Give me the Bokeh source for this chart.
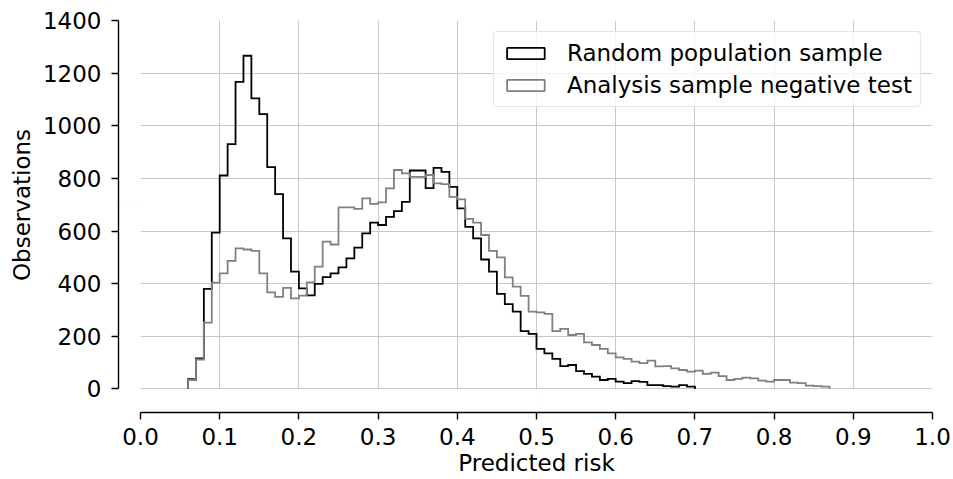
import numpy as np
from bokeh.plotting import figure
from bokeh.models import (Range1d, FixedTicker, Legend, LegendItem, ColumnDataSource,
                          LinearAxis)
from bokeh.embed import file_html
from bokeh.resources import INLINE

# ---------------- data ----------------
bin_width = 0.01
bin_left = [0.06, 0.07, 0.08, 0.09, 0.10, 0.11, 0.12, 0.13, 0.14, 0.15,
            0.16, 0.17, 0.18, 0.19, 0.20, 0.21, 0.22, 0.23, 0.24, 0.25,
            0.26, 0.27, 0.28, 0.29, 0.30, 0.31, 0.32, 0.33, 0.34, 0.35,
            0.36, 0.37, 0.38, 0.39, 0.40, 0.41, 0.42, 0.43, 0.44, 0.45,
            0.46, 0.47, 0.48, 0.49, 0.50, 0.51, 0.52, 0.53, 0.54, 0.55,
            0.56, 0.57, 0.58, 0.59, 0.60, 0.61, 0.62, 0.63, 0.64, 0.65,
            0.66, 0.67, 0.68, 0.69, 0.70, 0.71, 0.72, 0.73, 0.74, 0.75,
            0.76, 0.77, 0.78, 0.79, 0.80, 0.81, 0.82, 0.83, 0.84, 0.85,
            0.86]

random_population = [37, 116, 380, 594, 811, 930, 1167, 1266, 1104, 1044,
                     843, 740, 572, 446, 382, 356, 399, 425, 439, 462,
                     496, 537, 591, 632, 623, 654, 676, 711, 830, 830,
                     763, 840, 825, 768, 686, 616, 572, 492, 446, 361,
                     322, 294, 220, 209, 152, 135, 114, 87, 91, 68,
                     57, 47, 34, 38, 28, 22, 30, 27, 15, 15,
                     11, 9, 15, 9]

analysis_negative = [34, 112, 252, 404, 439, 487, 534, 530, 525, 439,
                     367, 350, 384, 344, 355, 405, 465, 560, 549, 690,
                     690, 684, 724, 703, 709, 762, 832, 819, 806, 806,
                     813, 781, 778, 730, 720, 646, 632, 585, 525, 500,
                     424, 389, 354, 294, 291, 285, 220, 228, 205, 209,
                     177, 167, 152, 135, 120, 114, 104, 98, 108, 86,
                     87, 78, 72, 66, 70, 57, 62, 49, 34, 38,
                     43, 40, 32, 28, 34, 34, 24, 22, 13, 11,
                     9]

series_names = ["Random population sample", "Analysis sample negative test"]
series_colors = ["#000000", "#808080"]

x_ticks = [0.0, 0.1, 0.2, 0.3, 0.4, 0.5, 0.6, 0.7, 0.8, 0.9, 1.0]
x_tick_labels = ["0.0", "0.1", "0.2", "0.3", "0.4", "0.5", "0.6", "0.7", "0.8", "0.9", "1.0"]
y_ticks = [0, 200, 400, 600, 800, 1000, 1200, 1400]
y_tick_labels = ["0", "200", "400", "600", "800", "1000", "1200", "1400"]

FONT = "DejaVu Sans"
FS = "23px"


def step_outline(lefts, vals, w):
    xs = [lefts[0]]
    ys = [0]
    for l, v in zip(lefts, vals):
        xs += [l, l + w]
        ys += [v, v]
    xs.append(lefts[len(vals) - 1] + w)
    ys.append(0)
    return xs, ys


W, H = 953, 479
p = figure(width=W, height=H, output_backend="svg", toolbar_location=None,
           x_range=Range1d(0.0, 1.0), y_range=Range1d(-2, 1400),
           min_border_left=140, min_border_right=21, min_border_top=20,
           min_border_bottom=90)
p.outline_line_color = None
p.background_fill_color = "white"
p.border_fill_color = "white"

# grid
for g, t in ((p.xgrid, x_ticks), (p.ygrid, y_ticks)):
    g.ticker = FixedTicker(ticks=t)
    g.grid_line_color = "#c8c8c8"
    g.grid_line_width = 1

# the default axes act as (practically invisible) spacers that push the
# visible spines away from the data area, like offset spines
for a, off, mid in ((p.below[0], 23, [0.5]), (p.left[0], 22, [700])):
    a.ticker = FixedTicker(ticks=mid)
    a.major_tick_out = off
    a.major_tick_in = 0
    a.minor_tick_out = 0
    a.minor_tick_in = 0
    a.major_tick_line_color = "black"
    a.major_tick_line_alpha = 0.01
    a.minor_tick_line_color = None
    a.axis_line_color = None
    a.major_label_standoff = 0
    a.major_label_text_font_size = "0px"
    a.major_label_text_alpha = 0

x_axis = LinearAxis(ticker=FixedTicker(ticks=x_ticks),
                    major_label_overrides={t: s for t, s in zip(x_ticks, x_tick_labels)},
                    bounds=(0, 1.0), axis_label="Predicted risk")
y_axis = LinearAxis(ticker=FixedTicker(ticks=y_ticks),
                    major_label_overrides={t: s for t, s in zip(y_ticks, y_tick_labels)},
                    bounds=(0, 1400), axis_label="Observations")
for ax in (x_axis, y_axis):
    ax.axis_line_color = "black"
    ax.axis_line_width = 1.4
    ax.major_tick_line_color = "black"
    ax.major_tick_line_width = 1.4
    ax.major_tick_out = 7
    ax.major_tick_in = 0
    ax.minor_tick_line_color = None
    ax.minor_tick_out = 0
    ax.major_label_text_font = FONT
    ax.major_label_text_font_size = FS
    ax.major_label_text_color = "black"
    ax.axis_label_text_font = FONT
    ax.axis_label_text_font_size = FS
    ax.axis_label_text_font_style = "normal"
    ax.axis_label_text_color = "black"
x_axis.major_label_standoff = 8
x_axis.axis_label_standoff = 2
y_axis.major_label_standoff = 10
y_axis.axis_label_standoff = 5
p.add_layout(x_axis, "below")
p.add_layout(y_axis, "left")

# histograms
datasets = [random_population, analysis_negative]
legend_items = []
for name, color, vals in zip(series_names, series_colors, datasets):
    lefts = bin_left[:len(vals)]
    xs, ys = step_outline(lefts, vals, bin_width)
    p.line(xs, ys, line_color=color, line_width=1.8, line_join="miter")
    src = ColumnDataSource(dict(left=lefts,
                                right=[l + bin_width for l in lefts],
                                top=vals, bottom=[0] * len(vals)))
    q = p.quad(left="left", right="right", top="top", bottom="bottom", source=src,
               fill_alpha=0, line_color=color, line_width=1.8)
    q.visible = False
    legend_items.append(LegendItem(label=name, renderers=[q]))

legend = Legend(items=legend_items, location="top_right")
legend.margin = 11
legend.padding = 8
legend.spacing = 6
legend.glyph_width = 47
legend.glyph_height = 14
legend.label_standoff = 18
legend.label_text_font = FONT
legend.label_text_font_size = FS
legend.label_text_color = "black"
legend.border_line_color = "#cccccc"
legend.border_line_width = 1
legend.background_fill_alpha = 0.8
if "border_radius" in Legend.properties():
    legend.border_radius = 4
p.add_layout(legend)

open("out.html", "w").write(file_html(p, INLINE))
